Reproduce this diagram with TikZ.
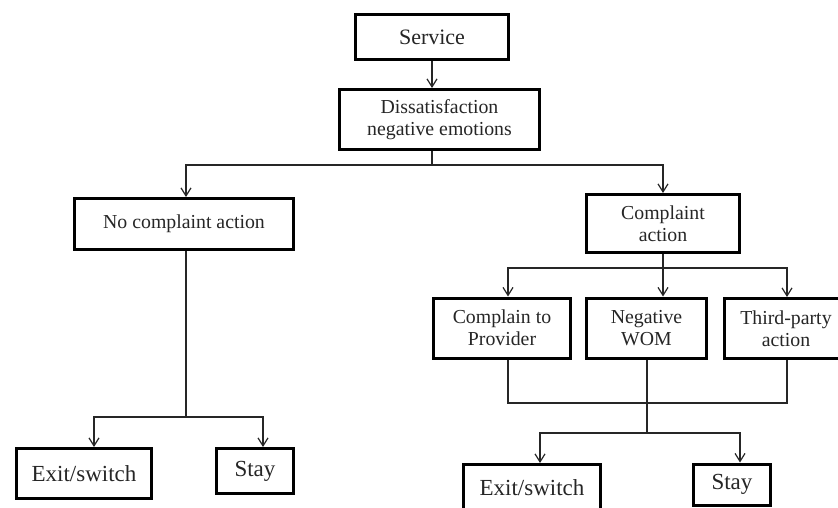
\documentclass[tikz,border=0pt]{standalone}
\usepackage{fontspec}
\setmainfont{Liberation Serif}
\usetikzlibrary{arrows.meta}
\tikzset{
  box/.style={draw=black, line width=3pt, align=center, inner sep=0pt, text=black!85,
    font=\fontsize{19.8}{22}\selectfont},
  bigbox/.style={box, font=\fontsize{23}{25}\selectfont},
  conn/.style={line width=1.2pt, draw=black!85},
  arr/.style={conn, -{Straight Barb[length=8pt,width=10pt,line width=1.2pt]}},
}
\begin{document}
\begin{tikzpicture}[x=1pt,y=-1pt]
\useasboundingbox (0,0) rectangle (838,507);
\clip (0,0) rectangle (838,507);
\fill[white] (0,0) rectangle (838,507);
% boxes
\node[box, font=\fontsize{22}{24}\selectfont, minimum width=153pt, minimum height=45pt] (serv) at (432,37) {Service};
\node[box, minimum width=200pt, minimum height=60pt] (dis) at (439.5,119.5) {Dissatisfaction\\negative emotions};
\node[box, minimum width=219pt, minimum height=51pt] (nca) at (184,224) {No complaint action};
\node[box, minimum width=153pt, minimum height=58pt] (ca) at (663,223.5) {Complaint\\action};
\node[box, minimum width=137pt, minimum height=60pt] (ctp) at (502,328) {Complain to\\Provider};
\node[box, minimum width=120pt, minimum height=60pt] (wom) at (646.5,328) {Negative\\WOM};
\node[box, minimum width=123pt, minimum height=60pt] (tpa) at (786,328.5) {Third-party\\action};
\node[bigbox, minimum width=135pt, minimum height=50pt] (exl) at (84,473.5) {Exit/switch};
\node[bigbox, minimum width=77pt, minimum height=45pt] (stl) at (255,471) {Stay};
\node[bigbox, minimum width=137pt, minimum height=47pt] (exr) at (532,488) {Exit/switch};
\node[bigbox, minimum width=77pt, minimum height=41pt] (str) at (732,484.5) {Stay};
% junction coordinates
\coordinate (j1) at (432,165);
\coordinate (j2) at (186,417);
\coordinate (j3) at (663,268);
\coordinate (j4) at (647,403);
\coordinate (j5) at (647,433);
% top
\draw[arr] (serv.south) -- (serv.south |- dis.north);
\draw[conn] (serv.south |- dis.south) -- (j1);
\draw[arr] (j1) -| ([xshift=2pt]nca.north);
\draw[arr] (j1) -| (ca.north);
% left branch
\draw[conn] (j2 |- nca.south) -- (j2);
\draw[arr] (j2) -| ([xshift=10pt]exl.north);
\draw[arr] (j2) -| ([xshift=8pt]stl.north);
% right branch
\draw[conn] (ca.south) -- (j3);
\draw[arr] (j3) -| ([xshift=6pt]ctp.north);
\draw[arr] (j3) -- (j3 |- wom.north);
\draw[arr] (j3) -| ([xshift=1pt]tpa.north);
% merge
\draw[conn] ([xshift=6pt]ctp.south) |- (j4);
\draw[conn] ([xshift=1pt]tpa.south) |- (j4);
\draw[conn] (j4 |- wom.south) -- (j5);
\draw[arr] (j5) -| ([xshift=8pt]exr.north);
\draw[arr] (j5) -| ([xshift=8pt]str.north);
\end{tikzpicture}
\end{document}
